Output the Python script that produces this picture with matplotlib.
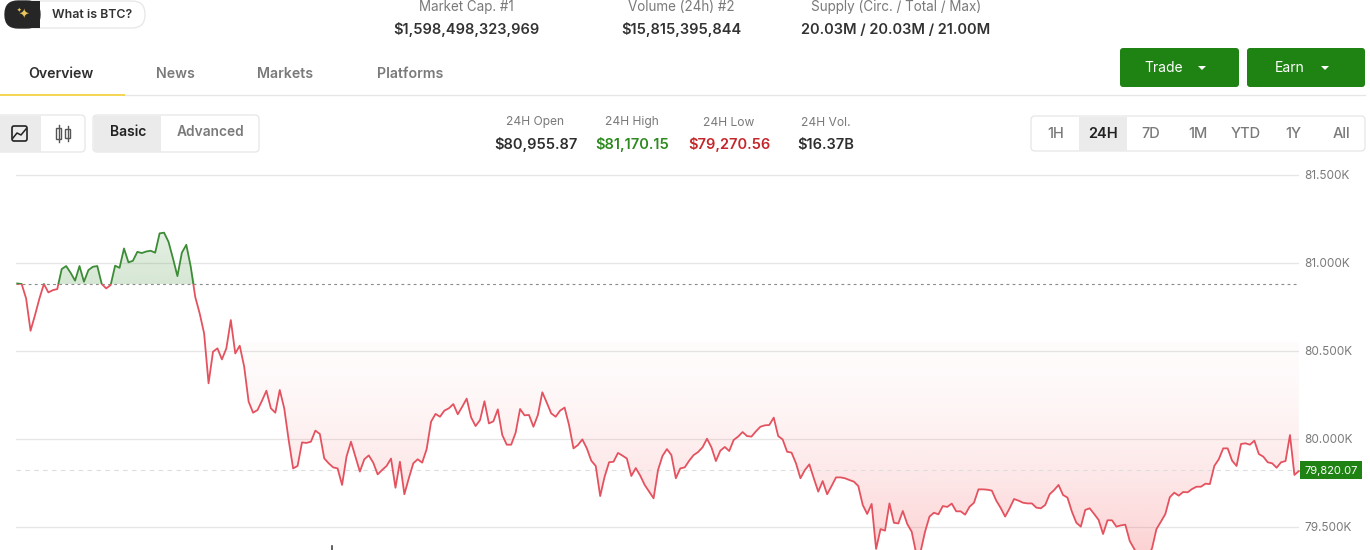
"""
BTC 24H price chart with the page header around it
"""

import numpy as np
import matplotlib
matplotlib.use('Agg')
import matplotlib.pyplot as plt
from matplotlib.patches import FancyBboxPatch, Rectangle, Polygon
from matplotlib.path import Path

plt.rcParams['font.family'] = ['Inter', 'DejaVu Sans']

# price every 5 minutes or so
price = [
    80883, 80880, 80798, 80614, 80703, 80798, 80880, 80832, 80845, 80851,
    80965, 80982, 80944, 80899, 80982, 80893, 80959, 80978, 80982, 80880,
    80855, 80874, 80984, 80972, 81082, 81003, 81012, 81063, 81056, 81065,
    81069, 81058, 81168, 81172, 81120, 81026, 80925, 81058, 81103, 80978,
    80807, 80713, 80599, 80315, 80495, 80514, 80451, 80514, 80675, 80485,
    80529, 80410, 80211, 80148, 80163, 80216, 80273, 80173, 80148, 80277,
    80173, 79993, 79831, 79845, 79979, 79976, 79983, 80046, 80027, 79888,
    79860, 79837, 79831, 79737, 79898, 79983, 79898, 79813, 79883, 79905,
    79864, 79797, 79822, 79845, 79887, 79721, 79869, 79684, 79775, 79860,
    79883, 79864, 79940, 80097, 80141, 80125, 80160, 80173, 80197, 80139,
    80182, 80228, 80121, 80072, 80106, 80213, 80087, 80099, 80167, 80021,
    79966, 79966, 80034, 80169, 80133, 80135, 80068, 80135, 80264, 80205,
    80144, 80125, 80160, 80177, 80078, 79945, 79964, 79996, 79945, 79875,
    79845, 79674, 79784, 79866, 79869, 79919, 79904, 79887, 79788, 79833,
    79790, 79737, 79699, 79661, 79822, 79902, 79941, 79907, 79775, 79831,
    79837, 79875, 79907, 79924, 79951, 80000, 79951, 79873, 79932, 79953,
    79930, 79993, 80012, 80038, 80015, 80012, 80042, 80068, 80076, 80078,
    80120, 80015, 79996, 79926, 79921, 79860, 79775, 79822, 79854, 79775,
    79699, 79759, 79684, 79731, 79780, 79780, 79775, 79765, 79756, 79731,
    79623, 79572, 79629, 79373, 79486, 79477, 79632, 79522, 79518, 79589,
    79515, 79471, 79348, 79358, 79471, 79557, 79579, 79570, 79617, 79612,
    79631, 79587, 79587, 79568, 79613, 79636, 79712, 79712, 79710, 79705,
    79648, 79606, 79557, 79604, 79657, 79648, 79636, 79632, 79632, 79608,
    79604, 79623, 79684, 79708, 79737, 79680, 79665, 79585, 79522, 79500,
    79595, 79604, 79572, 79538, 79458, 79536, 79536, 79500, 79507, 79511,
    79418, 79373, 79329, 79310, 79329, 79376, 79486, 79528, 79572, 79667,
    79693, 79676, 79697, 79695, 79714, 79727, 79727, 79744, 79742, 79845,
    79883, 79945, 79945, 79875, 79845, 79970, 79974, 79966, 79989, 79913,
    79898, 79866, 79860, 79835, 79866, 79873, 80021, 79794, 79816,
]
y_ticks = [79500, 80000, 80500, 81000, 81500]
y_tick_labels = ['79.500K', '80.000K', '80.500K', '81.000K', '81.500K']
open_level = 80880
last_price = 79820.07

top_stats = [
    ('Market Cap. #1', '$1,598,498,323,969'),
    ('Volume (24h) #2', '$15,815,395,844'),
    ('Supply (Circ. / Total / Max)', '20.03M / 20.03M / 21.00M'),
]
day_stats = [
    ('24H Open', '$80,955.87'),
    ('24H High', '$81,170.15'),
    ('24H Low', '$79,270.56'),
    ('24H Vol.', '$16.37B'),
]
tabs = ['Overview', 'News', 'Markets', 'Platforms']
ranges = ['1H', '24H', '7D', '1M', 'YTD', '1Y', 'All']

GREEN = '#1f8313'
LINE_GREEN = '#3c8c36'
LINE_RED = '#e4525f'
DARK = '#2e2e2e'
GREY = '#7a7a7a'
BORDER = '#e6e6e6'
W, H = 1370, 550

fig = plt.figure(figsize=(W / 100, H / 100), dpi=100)

# --- chart ---
ax = fig.add_axes([16 / W, 0, (1299 - 16) / W, 380 / H])
x = np.arange(len(price))
y = np.array(price, dtype=float)

for s in ax.spines.values():
    s.set_visible(False)
ax.set_xticks([])
ax.yaxis.tick_right()
ax.set_yticks(y_ticks, y_tick_labels)
ax.tick_params(axis='y', length=0, pad=3.6, labelsize=8.5, labelcolor=GREY)
ax.grid(True, axis='y', color='#e6e6e6', linewidth=0.9, zorder=0)
ax.set_axisbelow(True)

# gradient fills between the line and the open level
ramp = np.linspace(0, 1, 256)
values = 81528.4 + (79367 - 81528.4) * ramp
red_img = np.zeros((256, 1, 4))
red_img[..., :3] = np.array([245, 70, 75]) / 255
t = np.clip((80550 - values) / (80550 - 79367), 0, 1)
red_img[:, 0, 3] = (0.02 + 0.22 * t ** 1.6) * (values < 80550)
green_img = np.zeros((256, 1, 4))
green_img[..., :3] = np.array([60, 140, 50]) / 255
green_img[:, 0, 3] = 0.13 + 0.08 * np.clip((81200 - values) / 320, 0, 1)

extent = (-0.27, 288.03, 79367, 81528.4)
red_poly = ax.fill_between(x, np.minimum(y, open_level), open_level, alpha=0)
green_poly = ax.fill_between(x, np.maximum(y, open_level), open_level, alpha=0)
for img, poly in [(red_img, red_poly), (green_img, green_poly)]:
    im = ax.imshow(img, extent=extent, aspect='auto', origin='upper', zorder=1,
                   interpolation='bilinear')
    im.set_clip_path(Path.make_compound_path(*poly.get_paths()), ax.transData)
ax.set_xlim(-0.27, 288.03)
ax.set_ylim(79367, 81528.4)

ax.axhline(open_level, color='#8a8a8a', linewidth=0.8, dashes=(2.5, 3), zorder=2)
ax.axhline(last_price, color='#dddddd', linewidth=0.8, dashes=(4, 4), zorder=2)

above = Rectangle((-1, open_level), 300, 1000, transform=ax.transData)
below = Rectangle((-1, 78000), 300, open_level - 78000, transform=ax.transData)
line_up, = ax.plot(x, y, color=LINE_GREEN, linewidth=1.3, zorder=3)
line_up.set_clip_path(above)
line_down, = ax.plot(x, y, color=LINE_RED, linewidth=1.3, zorder=3)
line_down.set_clip_path(below)

# --- page furniture, in pixel coordinates ---
ui = fig.add_axes([0, 0, 1, 1], facecolor='none')
ui.set_xlim(0, W)
ui.set_ylim(H, 0)
ui.axis('off')


def box(x0, y0, x1, y1, face='white', edge=BORDER, r=4, lw=0.9):
    ui.add_patch(FancyBboxPatch((x0, y0), x1 - x0, y1 - y0, facecolor=face, edgecolor=edge,
                                linewidth=lw, boxstyle=f'round,pad=0,rounding_size={r}'))


def label(px, py, s, size=9.5, color=DARK, weight='normal', ha='center'):
    # va center sits a pixel high for this font
    ui.text(px, py + 1, s, fontsize=size, color=color, fontweight=weight, ha=ha, va='center')


# what is BTC pill
box(5, 1, 145, 28, r=13)
box(5, 1, 40, 28, face='#262626', edge='#262626', r=13)
ui.add_patch(Rectangle((26, 1), 14, 27, facecolor='#262626', edgecolor='none'))
ui.text(24, 15, '\u2726', fontsize=9, color='#e8c65a', ha='center', va='center', family='DejaVu Sans')
ui.text(19, 10, '\u2726', fontsize=4, color='#e8c65a', ha='center', va='center', family='DejaVu Sans')
label(92, 14.5, 'What is BTC?', size=8.9, weight=600, color='#333333')

# top stats
for cx, (head, val) in zip([466, 681, 896], top_stats):
    label(cx, 6, head, size=9.7, color=GREY)
    label(cx, 28.5, val, size=10.5, weight=600, color='#333333')

# tabs
for cx, name in zip([61, 175.5, 285.5, 410], tabs):
    label(cx, 73.5, name, size=10.2, weight=600, color=DARK if name == 'Overview' else GREY)
ui.plot([124, 1365], [94.5, 94.5], color=BORDER, linewidth=0.9)
ui.plot([0, 124], [94.5, 94.5], color='#f3d551', linewidth=1.4)

# trade / earn buttons
for x0, x1, name, cx, tri in [(1120, 1239, 'Trade', 1163.5, 1202), (1247, 1365, 'Earn', 1290, 1325)]:
    box(x0, 48, x1, 87, face=GREEN, edge='none', r=3, lw=0)
    label(cx, 66.5, name, size=10, color='white')
    ui.add_patch(Polygon([[tri - 4, 66], [tri + 4, 66], [tri, 70]], facecolor='white'))

# chart type toggle
box(-6, 115, 85, 152)
ui.add_patch(Rectangle((0, 115.5), 41, 36, facecolor='#ebebeb', edgecolor='none'))
box(12, 126, 27, 141, face='none', edge='#222222', r=2, lw=1.2)
ui.plot([13, 17, 21, 26], [138, 133, 135, 129], color='#222222', linewidth=1.1)
for cx, y0, y1 in [(59, 128, 139), (68, 129, 138)]:
    ui.plot([cx, cx], [y0 - 3, y1 + 3], color='#555555', linewidth=1)
    ui.add_patch(Rectangle((cx - 2.5, y0), 5, y1 - y0, facecolor='white', edgecolor='#555555', linewidth=1))

# basic / advanced toggle
box(93, 115, 259, 152)
ui.add_patch(Rectangle((94, 115.5), 67, 36, facecolor='#ebebeb', edgecolor='none'))
label(128, 131.5, 'Basic', size=10, weight=600, color='#222222')
label(210.5, 131.5, 'Advanced', size=9.9, weight=600, color=GREY)

# day stats
for cx, (head, val), col in zip([535.5, 632, 729, 826], day_stats, [DARK, '#2d8a1f', '#c4262a', DARK]):
    label(cx, 121.5, head, size=8.7, color=GREY)
    label(cx, 143.5, val, size=10.5, weight=600, color=col)

# range selector
box(1031, 116, 1365, 151)
ui.add_patch(Rectangle((1079, 116.5), 48, 34, facecolor='#ebebeb', edgecolor='none'))
for cx, name in zip([1056, 1103, 1151, 1198, 1246, 1293, 1341], ranges):
    label(cx, 132.5, name, size=10.5, weight=600 if name == '24H' else 500,
          color='#222222' if name == '24H' else GREY)

# last price tag
ui.add_patch(Rectangle((1300, 461), 62, 18, facecolor=GREEN, edgecolor='none'))
py_last = 175 + (81500 - last_price) / 500 * 87.9
label(1331, py_last, f'{last_price:,.2f}', size=8, color='white')

# top of a cut off time label at the bottom edge
ui.plot([332.5, 332.5], [546, 550], color='#444444', linewidth=1.2)

fig.savefig('out.png', dpi=100)
